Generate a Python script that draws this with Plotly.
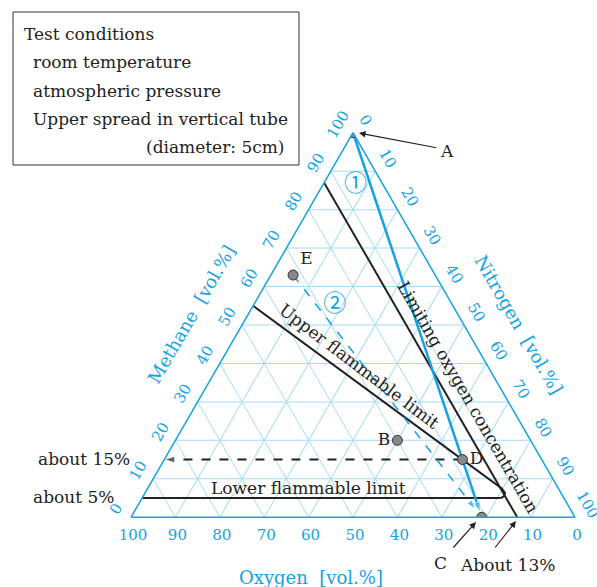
import plotly.graph_objects as go

W, H = 597, 587
CY = "#13a3e3"
GR = "#a6dbf3"
SERIF = "DejaVu Serif"

# ---------------- data (ternary: a=Methane, b=Oxygen, c=Nitrogen) ----------------
pt_labels = ["A", "B", "C", "D", "E"]
pt_methane = [100, 20, 0, 15, 63]
pt_oxygen = [0, 30, 21, 17.85, 32]
pt_nitrogen = [0, 50, 79, 67.15, 5]
pt_textpos = ["top left", "middle left", "bottom center", "middle right", "top right"]

# line 1: air dilution A -> C (arrow)
l1_methane = [100, 1.3]
l1_oxygen = [0, 20.73]
l1_nitrogen = [0, 77.97]

# line 2: E -> C (dashed arrow)
l2_methane = [63, 2.1]
l2_oxygen = [32, 21.4]
l2_nitrogen = [5, 76.5]

# D -> methane axis at about 15%
l15_methane = [15, 15]
l15_oxygen = [17.85, 85]
l15_nitrogen = [67.15, 0]

# flammable range boundary (upper limit -> nose -> lower limit)
fl_methane = [55, 15, 7.5, 6.3, 5.5, 5.1, 5, 5]
fl_oxygen = [45, 17.85, 12.75, 12.6, 13.2, 14.0, 15, 95]
fl_nitrogen = [0, 67.15, 79.75, 81.1, 81.3, 80.9, 80, 0]

# limiting oxygen concentration (about 13%)
loc_methane = [87, 0]
loc_oxygen = [13, 13]
loc_nitrogen = [0, 87]

# circled labels
cl_text = ["①", "②"]
cl_methane = [86.3, 55.2]
cl_oxygen = [6.3, 26.5]
cl_nitrogen = [7.4, 18.3]

tick_vals = list(range(0, 101, 10))


def px(x):
    return x / W


def py(y):
    return 1 - y / H


fig = go.Figure()

fig.add_trace(go.Scatterternary(
    a=fl_methane, b=fl_oxygen, c=fl_nitrogen, mode="lines",
    line=dict(color="#222", width=2), hoverinfo="skip"))
fig.add_trace(go.Scatterternary(
    a=loc_methane, b=loc_oxygen, c=loc_nitrogen, mode="lines",
    line=dict(color="#222", width=2), hoverinfo="skip"))
fig.add_trace(go.Scatterternary(
    a=l15_methane, b=l15_oxygen, c=l15_nitrogen, mode="lines+markers",
    line=dict(color="#222", width=2, dash="dash"),
    marker=dict(symbol=["circle", "arrow"], size=[0, 11], color="#222", angleref="previous"),
    hoverinfo="skip"))
fig.add_trace(go.Scatterternary(
    a=l1_methane, b=l1_oxygen, c=l1_nitrogen, mode="lines+markers",
    line=dict(color=CY, width=2.5),
    marker=dict(symbol=["circle", "arrow"], size=[0, 11], color=CY, angleref="previous"),
    hoverinfo="skip"))
fig.add_trace(go.Scatterternary(
    a=l2_methane, b=l2_oxygen, c=l2_nitrogen, mode="lines+markers",
    line=dict(color=CY, width=1.5, dash="dash"),
    marker=dict(symbol=["circle", "arrow"], size=[0, 10], color=CY, angleref="previous"),
    hoverinfo="skip"))
fig.add_trace(go.Scatterternary(
    a=cl_methane, b=cl_oxygen, c=cl_nitrogen, mode="text", text=cl_text,
    textfont=dict(family="Noto Sans CJK JP", size=23, color=CY), hoverinfo="skip"))

show_text = ["", "B", "", "D", "E"]
fig.add_trace(go.Scatterternary(
    a=pt_methane, b=pt_oxygen, c=pt_nitrogen, mode="markers+text",
    text=show_text, textposition=pt_textpos,
    textfont=dict(family=SERIF, size=17, color="#222"),
    marker=dict(size=10, color="#888", line=dict(color="#333", width=1)),
    hoverinfo="skip"))


def axis(tickangle, ticklen):
    return dict(
        title=dict(text=""), min=0, tickmode="array", tickvals=tick_vals,
        ticktext=[str(v) for v in tick_vals], tickangle=tickangle,
        showline=True, linecolor=CY, linewidth=1.5,
        showgrid=True, gridcolor=GR, gridwidth=1,
        ticks="outside", ticklen=ticklen, tickcolor="rgba(0,0,0,0)",
        tickfont=dict(family=SERIF, size=15, color=CY))


fig.update_layout(
    width=W, height=H, margin=dict(l=0, r=0, t=0, b=0),
    paper_bgcolor="white", showlegend=False,
    ternary=dict(
        sum=100, bgcolor="white",
        domain=dict(x=[px(131), px(575)], y=[py(518), py(132)]),
        aaxis=axis(-60, 5), baxis=axis(0, 4), caxis=axis(60, 5)),
)

ann = []


def txt(x, y, s, size=17, color="#222", angle=0, xanchor="center", font=SERIF):
    ann.append(dict(x=px(x), y=py(y), xref="paper", yref="paper", text=s, showarrow=False,
                    textangle=angle, xanchor=xanchor, yanchor="middle",
                    font=dict(family=font, size=size, color=color)))


def arrow(x0, y0, x1, y1):
    ann.append(dict(x=px(x1), y=py(y1), xref="paper", yref="paper", text="",
                    ax=x0 - x1, ay=y0 - y1, showarrow=True, arrowhead=2, arrowsize=1.1,
                    arrowwidth=1.2, arrowcolor="#222"))


# conditions box
txt(22, 34, "Test conditions", xanchor="left")
txt(31, 62, "room temperature", xanchor="left")
txt(31, 91, "atmospheric pressure", xanchor="left")
txt(31, 119, "Upper spread in vertical tube", xanchor="left")
txt(287, 147, "(diameter: 5cm)", xanchor="right")

# axis titles
txt(311, 577, "Oxygen  [vol.%]", size=18, color=CY)
txt(191, 314, "Methane  [vol.%]", size=18, color=CY, angle=-60)
txt(519, 324, "Nitrogen  [vol.%]", size=18, color=CY, angle=60)

# line labels
txt(359, 366, "Upper flammable limit", angle=37)
txt(468, 397, "Limiting oxygen concentration", angle=60)
txt(308, 488, "Lower flammable limit")

txt(84, 459, "about 15%")
txt(73, 497, "about 5%")
txt(447, 151, "A")
txt(440, 563, "C")
txt(508, 565, "About 13%")

arrow(438, 148, 359, 133)
arrow(452, 549, 476, 522)
arrow(494, 549, 516, 521)

fig.update_layout(annotations=ann, shapes=[dict(
    type="rect", xref="paper", yref="paper", x0=px(13), x1=px(299), y0=py(165), y1=py(12),
    line=dict(color="#333", width=1))])

fig.write_html("out.html", config={"displayModeBar": False},
               post_script="document.body.style.margin='0';document.body.style.overflow='hidden';")
